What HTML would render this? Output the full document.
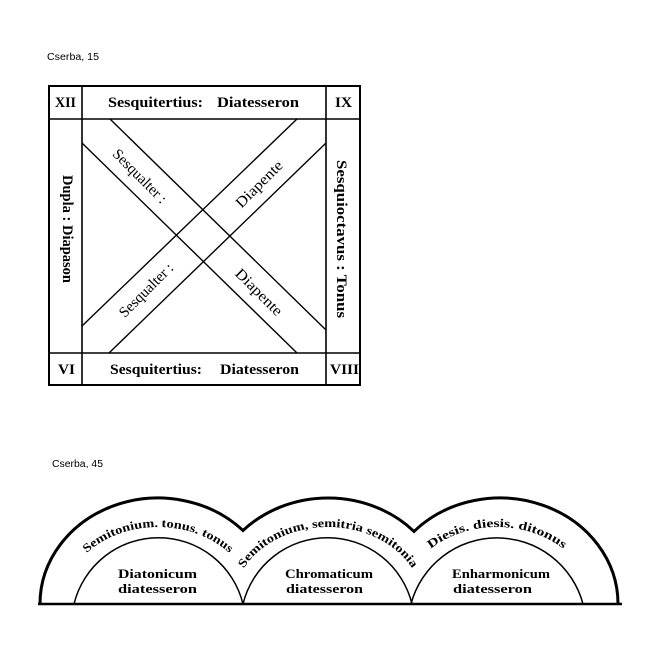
<!DOCTYPE html>
<html><head><meta charset="utf-8"><style>
html,body{margin:0;padding:0;background:#fff;}
svg{display:block;}
.s{font-family:"Liberation Sans",sans-serif;font-size:10px;fill:#000;}
.b{font-family:"Liberation Serif",serif;font-weight:bold;font-size:15px;fill:#000;}
.r{font-family:"Liberation Serif",serif;font-size:15px;fill:#000;}
.t{font-family:"Liberation Serif",serif;font-weight:bold;font-size:13px;fill:#000;}
.a{font-family:"Liberation Serif",serif;font-weight:bold;font-size:12px;fill:#000;}
</style></head><body>
<svg width="648" height="648" viewBox="0 0 648 648" xmlns="http://www.w3.org/2000/svg">
<rect width="648" height="648" fill="#fff"/>
<text class="s" x="47" y="60" textLength="52" lengthAdjust="spacingAndGlyphs">Cserba, 15</text>
<text class="s" x="52" y="467" textLength="51" lengthAdjust="spacingAndGlyphs">Cserba, 45</text>

<!-- Box -->
<g fill="none" stroke="#000">
<rect x="49" y="86" width="311" height="299" stroke-width="2"/>
<line x1="49" y1="119" x2="360" y2="119" stroke-width="1.6"/>
<line x1="49" y1="353" x2="360" y2="353" stroke-width="1.6"/>
<line x1="82" y1="86" x2="82" y2="385" stroke-width="1.6"/>
<line x1="326" y1="86" x2="326" y2="385" stroke-width="1.6"/>
<line x1="110" y1="119" x2="326" y2="330" stroke-width="1.4"/>
<line x1="82" y1="143" x2="297" y2="353" stroke-width="1.4"/>
<line x1="82" y1="326" x2="297" y2="119" stroke-width="1.4"/>
<line x1="109" y1="353" x2="326" y2="143" stroke-width="1.4"/>
</g>
<text class="b" x="55" y="107" textLength="21" lengthAdjust="spacingAndGlyphs">XII</text>
<text class="b" x="108" y="107" textLength="95" lengthAdjust="spacingAndGlyphs">Sesquitertius:</text>
<text class="b" x="217" y="107" textLength="82" lengthAdjust="spacingAndGlyphs">Diatesseron</text>
<text class="b" x="335" y="107" textLength="17" lengthAdjust="spacingAndGlyphs">IX</text>
<text class="b" x="58" y="374" textLength="17" lengthAdjust="spacingAndGlyphs">VI</text>
<text class="b" x="110" y="374" textLength="92" lengthAdjust="spacingAndGlyphs">Sesquitertius:</text>
<text class="b" x="220" y="374" textLength="79" lengthAdjust="spacingAndGlyphs">Diatesseron</text>
<text class="b" x="330" y="374" textLength="29" lengthAdjust="spacingAndGlyphs">VIII</text>
<text class="b" transform="translate(63,229) rotate(90)" text-anchor="middle" textLength="108" lengthAdjust="spacingAndGlyphs">Dupla : Diapason</text>
<text class="b" transform="translate(337,239) rotate(90)" text-anchor="middle" textLength="158" lengthAdjust="spacingAndGlyphs">Sesquioctavus : Tonus</text>

<text class="r" transform="translate(140,176) rotate(45)" x="0" y="5" text-anchor="middle" textLength="70" lengthAdjust="spacingAndGlyphs">Sesqualter :</text>
<text class="r" transform="translate(259,184) rotate(-45)" x="0" y="5" text-anchor="middle" textLength="60" lengthAdjust="spacingAndGlyphs">Diapente</text>
<text class="r" transform="translate(146,290) rotate(-45)" x="0" y="5" text-anchor="middle" textLength="70" lengthAdjust="spacingAndGlyphs">Sesqualter :</text>
<text class="r" transform="translate(259,292) rotate(45)" x="0" y="5" text-anchor="middle" textLength="60" lengthAdjust="spacingAndGlyphs">Diapente</text>

<!-- Arches -->
<defs>
<path id="p1" d="M 63 604 A 95 77 0 0 1 253 604"/>
<path id="p2" d="M 233 604 A 95 77 0 0 1 423 604"/>
<path id="p3" d="M 402 604 A 95 77 0 0 1 592 604"/>
</defs>
<g fill="none" stroke="#000">
<line x1="38" y1="604" x2="622" y2="604" stroke-width="2.5"/>
<path d="M 40 604 A 118 106 0 0 1 243 530.5 A 118 106 0 0 1 414 531.4 A 118 106 0 0 1 618 604" stroke-width="3"/>
<path d="M 74 604 A 87 87 0 0 1 243 604" stroke-width="1.5"/>
<path d="M 243 604 A 87 87 0 0 1 412 604" stroke-width="1.5"/>
<path d="M 411 604 A 89 89 0 0 1 583 604" stroke-width="1.5"/>
</g>
<text class="a"><textPath href="#p1" startOffset="50%" text-anchor="middle" textLength="155" lengthAdjust="spacingAndGlyphs">Semitonium. tonus. tonus</textPath></text>
<text class="a"><textPath href="#p2" startOffset="50%" text-anchor="middle" textLength="195" lengthAdjust="spacingAndGlyphs">Semitonium, semitria semitonia</textPath></text>
<text class="a"><textPath href="#p3" startOffset="50%" text-anchor="middle" textLength="142" lengthAdjust="spacingAndGlyphs">Diesis. diesis. ditonus</textPath></text>

<text class="t" x="118" y="578" textLength="79" lengthAdjust="spacingAndGlyphs">Diatonicum</text>
<text class="t" x="118" y="593" textLength="79" lengthAdjust="spacingAndGlyphs">diatesseron</text>
<text class="t" x="285" y="578" textLength="88" lengthAdjust="spacingAndGlyphs">Chromaticum</text>
<text class="t" x="286" y="593" textLength="77" lengthAdjust="spacingAndGlyphs">diatesseron</text>
<text class="t" x="452" y="578" textLength="98" lengthAdjust="spacingAndGlyphs">Enharmonicum</text>
<text class="t" x="453" y="593" textLength="79" lengthAdjust="spacingAndGlyphs">diatesseron</text>
</svg>
</body></html>
